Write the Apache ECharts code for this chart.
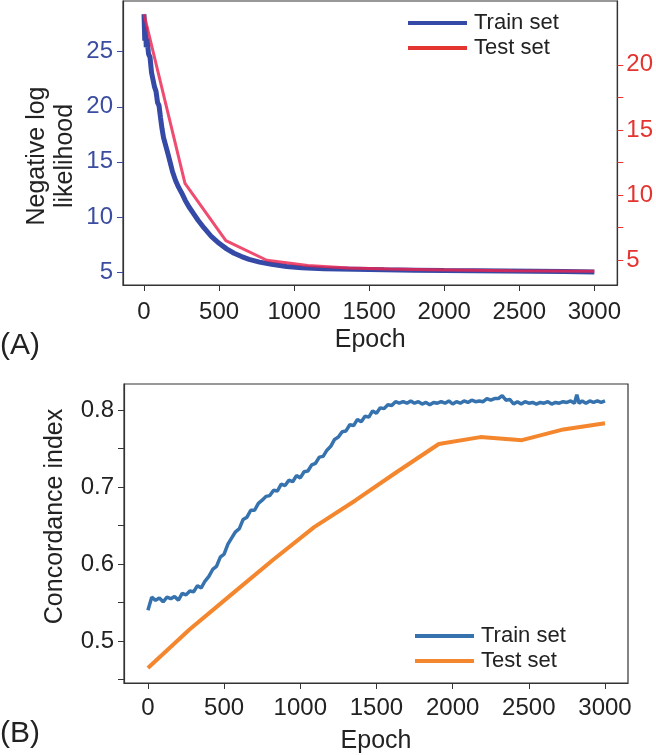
<!DOCTYPE html>
<html>
<head>
<meta charset="utf-8">
<script src="https://cdn.jsdelivr.net/npm/echarts@6/dist/echarts.min.js"></script>
<style>
  html, body { margin: 0; padding: 0; background: #fff; }
  #chart { width: 656px; height: 755px; }
</style>
</head>
<body>
<div id="chart"></div>
<script>
// (A) negative log likelihood
const trainEpochsA = [0, 5, 10, 15, 20, 30, 40, 50, 60, 70, 80, 90, 100, 110, 120, 130, 140, 150, 160, 175, 190, 210, 230, 250, 275, 300, 330, 360, 400, 450, 500, 550, 600, 650, 700, 770, 850, 950, 1050, 1200, 1400, 1600, 1800, 2000, 2200, 2400, 2600, 2800, 3000];
const trainLossA = [28.4, 26.0, 27.3, 25.4, 26.2, 24.8, 24.5, 23.1, 23.2, 21.8, 21.4, 20.4, 20.1, 19.0, 18.0, 17.2, 16.7, 16.2, 15.7, 14.9, 14.1, 13.3, 12.7, 12.2, 11.5, 10.9, 10.3, 9.7, 9.0, 8.2, 7.6, 7.1, 6.7, 6.4, 6.15, 5.9, 5.7, 5.5, 5.38, 5.3, 5.25, 5.2, 5.17, 5.14, 5.12, 5.1, 5.07, 5.04, 5.0];
const testEpochs = [0, 273, 545, 818, 1091, 1364, 1636, 1909, 2182, 2455, 2727, 3000];
const testLossA = [23.9, 10.9, 6.5, 5.0, 4.6, 4.4, 4.32, 4.28, 4.24, 4.2, 4.18, 4.15];

// (B) concordance index
const trainEpochsB = [0, 25, 50, 75, 100, 125, 150, 175, 200, 225, 250, 275, 300, 325, 350, 375, 400, 425, 450, 475, 500, 525, 550, 575, 600, 625, 650, 675, 700, 725, 750, 775, 800, 825, 850, 875, 900, 925, 950, 975, 1000, 1025, 1050, 1075, 1100, 1125, 1150, 1175, 1200, 1225, 1250, 1275, 1300, 1325, 1350, 1375, 1400, 1425, 1450, 1475, 1500, 1525, 1550, 1575, 1600, 1625, 1650, 1675, 1700, 1725, 1750, 1775, 1800, 1825, 1850, 1875, 1900, 1925, 1950, 1975, 2000, 2025, 2050, 2075, 2100, 2125, 2150, 2175, 2200, 2225, 2250, 2275, 2300, 2325, 2350, 2375, 2400, 2425, 2450, 2475, 2500, 2525, 2550, 2575, 2600, 2625, 2650, 2675, 2700, 2725, 2750, 2775, 2800, 2815, 2830, 2850, 2875, 2900, 2925, 2950, 2975, 3000];
const trainCIndexB = [0.540, 0.557, 0.553, 0.556, 0.551, 0.557, 0.555, 0.558, 0.553, 0.562, 0.560, 0.565, 0.564, 0.572, 0.569, 0.578, 0.584, 0.593, 0.597, 0.609, 0.613, 0.626, 0.634, 0.642, 0.646, 0.658, 0.661, 0.670, 0.670, 0.679, 0.683, 0.688, 0.689, 0.696, 0.695, 0.704, 0.702, 0.709, 0.707, 0.715, 0.712, 0.720, 0.721, 0.729, 0.731, 0.739, 0.740, 0.748, 0.753, 0.762, 0.765, 0.772, 0.773, 0.781, 0.780, 0.788, 0.785, 0.792, 0.791, 0.799, 0.796, 0.803, 0.802, 0.807, 0.806, 0.811, 0.809, 0.811, 0.809, 0.812, 0.809, 0.811, 0.808, 0.810, 0.807, 0.810, 0.809, 0.811, 0.809, 0.812, 0.808, 0.811, 0.809, 0.812, 0.810, 0.813, 0.811, 0.812, 0.811, 0.815, 0.813, 0.815, 0.815, 0.819, 0.813, 0.814, 0.808, 0.811, 0.808, 0.811, 0.809, 0.810, 0.808, 0.810, 0.809, 0.811, 0.808, 0.810, 0.809, 0.811, 0.810, 0.812, 0.809, 0.820, 0.809, 0.812, 0.809, 0.812, 0.810, 0.812, 0.810, 0.812];
const testCIndexB = [0.465, 0.515, 0.560, 0.605, 0.648, 0.683, 0.720, 0.756, 0.765, 0.761, 0.775, 0.783];

// ticks
const epochTicks = [0, 500, 1000, 1500, 2000, 2500, 3000];
const lossTicksLeft = [5, 10, 15, 20, 25];
const lossTicksRight = [5, 7.5, 10, 12.5, 15, 17.5, 20];
const lossLabelsRight = [5, 10, 15, 20];
const cindexTicks = [0.45, 0.5, 0.55, 0.6, 0.65, 0.7, 0.75, 0.8];
const cindexLabels = [0.5, 0.6, 0.7, 0.8];

const pairs = (xs, ys) => xs.map((x, i) => [x, ys[i]]);

const FONT = 'Liberation Sans, Arial, Helvetica, sans-serif';
const AXIS_COLOR = '#333';
const BLUE_A = '#3549a6', RED_A = '#e3342f';
const BLUE_B = '#3673ae', ORANGE_B = '#f4862e';

const chart = echarts.init(document.getElementById('chart'));

function xAxisFor(gridIndex, min, max, margin, gap) {
  return {
    type: 'value', gridIndex, min, max,
    axisLine: { show: true, onZero: false, lineStyle: { color: AXIS_COLOR, width: 1.2 } },
    axisTick: { show: true, length: 6, customValues: epochTicks, lineStyle: { color: AXIS_COLOR } },
    axisLabel: { customValues: epochTicks, fontSize: 24, color: '#222', margin, fontFamily: FONT,
      formatter: v => String(v) },
    splitLine: { show: false },
    name: 'Epoch', nameLocation: 'middle', nameGap: gap,
    nameTextStyle: { fontSize: 25, color: '#222', fontFamily: FONT }
  };
}

function legendFor(left, top, items) {
  return {
    orient: 'vertical', left, top, padding: 0, itemGap: 3,
    itemWidth: 59, itemHeight: 4, icon: 'rect',
    data: items.map(([name, color]) => ({ name, itemStyle: { color, opacity: 1 } })),
    formatter: name => name.replace(/ [AB]$/, ''),
    textStyle: { fontSize: 22, color: '#222', fontFamily: FONT, padding: [0, 0, 0, 2] }
  };
}

const option = {
  backgroundColor: '#fff',
  animation: false,
  textStyle: { fontFamily: FONT },
  grid: [
    { left: 123, top: 1, width: 496, height: 284, show: true, borderColor: AXIS_COLOR, borderWidth: 1.2, backgroundColor: 'transparent' },
    { left: 124, top: 384, width: 504, height: 299, show: true, borderColor: AXIS_COLOR, borderWidth: 1.2, backgroundColor: 'transparent' }
  ],
  xAxis: [
    xAxisFor(0, -140, 3153, 15, 43),
    xAxisFor(1, -157, 3151, 13, 46)
  ],
  yAxis: [
    {
      type: 'value', gridIndex: 0, position: 'left', min: 3.82, max: 29.6,
      axisLine: { show: true, onZero: false, lineStyle: { color: AXIS_COLOR, width: 1.2 } },
      axisTick: { show: true, length: 6, customValues: lossTicksLeft, lineStyle: { color: '#3a4da0' } },
      axisLabel: { customValues: lossTicksLeft, fontSize: 24, color: '#3a4da0', margin: 10, fontFamily: FONT },
      splitLine: { show: false },
      name: 'Negative log\nlikelihood', nameLocation: 'middle', nameGap: 44, nameRotate: 90,
      nameMoveOverlap: false,
      nameTextStyle: { fontSize: 25, lineHeight: 28, color: '#222', fontFamily: FONT, padding: [0, 26, 0, 0] }
    },
    {
      type: 'value', gridIndex: 0, position: 'right', min: 3.1, max: 24.9,
      axisLine: { show: true, onZero: false, lineStyle: { color: AXIS_COLOR, width: 1.2 } },
      axisTick: { show: true, length: 6, customValues: lossTicksRight, lineStyle: { color: RED_A } },
      axisLabel: { customValues: lossLabelsRight, fontSize: 24, color: RED_A, margin: 9, fontFamily: FONT },
      splitLine: { show: false }
    },
    {
      type: 'value', gridIndex: 1, min: 0.4455, max: 0.834,
      axisLine: { show: true, onZero: false, lineStyle: { color: AXIS_COLOR, width: 1.2 } },
      axisTick: { show: true, length: 6, customValues: cindexTicks, lineStyle: { color: AXIS_COLOR } },
      axisLabel: { customValues: cindexLabels, fontSize: 24, color: '#222', margin: 10, fontFamily: FONT,
        formatter: v => v.toFixed(1) },
      splitLine: { show: false },
      name: 'Concordance index', nameLocation: 'middle', nameGap: 56, nameRotate: 90,
      nameTextStyle: { fontSize: 25, color: '#222', fontFamily: FONT, padding: [0, 0, 0, 34] }
    }
  ],
  legend: [
    legendFor(408, 12, [['Train set A', BLUE_A], ['Test set A', RED_A]]),
    legendFor(415, 625, [['Train set B', BLUE_B], ['Test set B', ORANGE_B]])
  ],
  series: [
    {
      name: 'Train set A', type: 'line', xAxisIndex: 0, yAxisIndex: 0,
      data: pairs(trainEpochsA, trainLossA), showSymbol: false, symbol: 'none',
      lineStyle: { color: BLUE_A, width: 5 }, itemStyle: { color: BLUE_A }, z: 2
    },
    {
      name: 'Test set A', type: 'line', xAxisIndex: 0, yAxisIndex: 1,
      data: pairs(testEpochs, testLossA), showSymbol: false, symbol: 'none',
      lineStyle: { color: '#ea2451', width: 3, opacity: 0.82 }, itemStyle: { color: RED_A }, z: 3
    },
    {
      name: 'Train set B', type: 'line', xAxisIndex: 1, yAxisIndex: 2,
      data: pairs(trainEpochsB, trainCIndexB), showSymbol: false, symbol: 'none',
      lineStyle: { color: BLUE_B, width: 3.5 }, itemStyle: { color: BLUE_B }
    },
    {
      name: 'Test set B', type: 'line', xAxisIndex: 1, yAxisIndex: 2,
      data: pairs(testEpochs, testCIndexB), showSymbol: false, symbol: 'none',
      lineStyle: { color: ORANGE_B, width: 4 }, itemStyle: { color: ORANGE_B }
    }
  ],
  graphic: [
    { type: 'text', left: 0, top: 331, style: { text: '(A)', fontSize: 30, fill: '#222', fontFamily: FONT } },
    { type: 'text', left: 0, top: 719, style: { text: '(B)', fontSize: 30, fill: '#222', fontFamily: FONT } }
  ]
};

chart.setOption(option);
</script>
</body>
</html>
